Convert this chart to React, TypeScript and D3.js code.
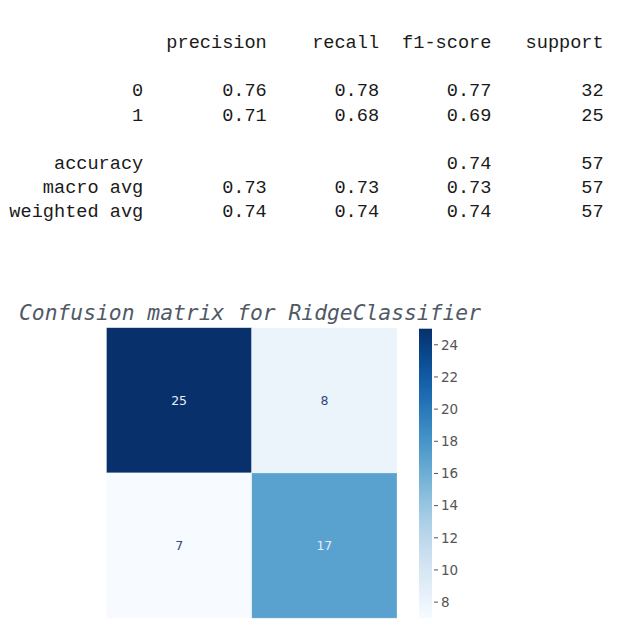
import React from "react";
import * as d3 from "d3";

// ---- classification report data ----
const reportHeaders = ["precision", "recall", "f1-score", "support"];
const classLabels = ["0", "1"];
const precision = [0.76, 0.71];
const recall = [0.78, 0.68];
const f1 = [0.77, 0.69];
const support = [32, 25];
const accuracy = 0.74;
const accuracySupport = 57;
const avgLabels = ["macro avg", "weighted avg"];
const avgPrecision = [0.73, 0.74];
const avgRecall = [0.73, 0.74];
const avgF1 = [0.73, 0.74];
const avgSupport = [57, 57];

// ---- confusion matrix data ----
const title = "Confusion matrix for RidgeClassifier";
const matrix = [
  [25, 8],
  [7, 17],
];
const colorbarTicks = [8, 10, 12, 14, 16, 18, 20, 22, 24];

export default function App() {
  const W = 624;
  const H = 630;

  // table layout (monospaced grid), svg coords (body margin 8)
  const charW = 11.23;
  const colEnds = [12, 23, 33, 43, 53].map((c) => c * charW + 0.5);
  const lineY = (i: number) => 48 + i * 24.2;
  const tableFont = "'Courier New', 'Liberation Mono', monospace";

  type Row = { label: string; cells: (string | null)[]; line: number };
  const rows: Row[] = [];
  classLabels.forEach((l, i) =>
    rows.push({
      label: l,
      cells: [precision[i].toFixed(2), recall[i].toFixed(2), f1[i].toFixed(2), String(support[i])],
      line: 2 + i,
    })
  );
  rows.push({ label: "accuracy", cells: [null, null, accuracy.toFixed(2), String(accuracySupport)], line: 5 });
  avgLabels.forEach((l, i) =>
    rows.push({
      label: l,
      cells: [avgPrecision[i].toFixed(2), avgRecall[i].toFixed(2), avgF1[i].toFixed(2), String(avgSupport[i])],
      line: 6 + i,
    })
  );

  // heatmap
  const hmLeft = 106.5 - 8;
  const hmTop = 327.7 - 8;
  const hmSize = 290.5;
  const band = d3.scaleBand<number>().domain([0, 1]).range([0, hmSize]);
  const flat = matrix.flat();
  const vmin = d3.min(flat)!;
  const vmax = d3.max(flat)!;
  const color = d3.scaleSequential(d3.interpolateBlues).domain([vmin, vmax]);

  // colorbar
  const cbLeft = 419 - 8;
  const cbW = 13;
  const cbTop = hmTop + 1;
  const cbH = hmSize - 1;
  const cbScale = d3.scaleLinear().domain([vmin, vmax]).range([cbTop + cbH, cbTop]);
  const stops = d3.range(0, 1.0001, 0.05);

  return (
    <svg width={W - 16} height={H - 16} style={{ display: "block" }}>
      <defs>
        <linearGradient id="cbgrad" x1="0" y1="1" x2="0" y2="0">
          {stops.map((t) => (
            <stop key={t} offset={`${t * 100}%`} stopColor={d3.interpolateBlues(t)} />
          ))}
        </linearGradient>
      </defs>
      <rect width={W} height={H} fill="#fff" />
      {/* table */}
      <g fontFamily={tableFont} fontSize={18.6} fill="#1a1a1a" transform="translate(0,-8)">
        {reportHeaders.map((h, j) => (
          <text key={h} x={colEnds[j + 1]} y={lineY(0)} textAnchor="end">
            {h}
          </text>
        ))}
        {rows.map((r) => (
          <g key={r.label}>
            <text x={colEnds[0]} y={lineY(r.line)} textAnchor="end">
              {r.label}
            </text>
            {r.cells.map((c, j) =>
              c === null ? null : (
                <text key={j} x={colEnds[j + 1]} y={lineY(r.line)} textAnchor="end">
                  {c}
                </text>
              )
            )}
          </g>
        ))}
      </g>
      {/* title */}
      <text
        x={19 - 8}
        y={320 - 8}
        fontFamily="'DejaVu Sans Mono', monospace"
        fontStyle="italic"
        fontSize={20.5}
        fill="#4f5a66"
        textLength={462}
        lengthAdjust="spacingAndGlyphs"
      >
        {title}
      </text>
      {/* heatmap */}
      <g transform={`translate(${hmLeft},${hmTop})`}>
        {matrix.map((row, i) =>
          row.map((v, j) => (
            <g key={`${i}-${j}`}>
              <rect
                x={band(j)}
                y={band(i)}
                width={band.bandwidth()}
                height={band.bandwidth()}
                fill={color(v)}
                stroke="#ffffff"
                strokeOpacity={0.5}
                strokeWidth={0.6}
              />
              <text
                x={band(j)! + band.bandwidth() / 2}
                y={band(i)! + band.bandwidth() / 2}
                dy="0.35em"
                textAnchor="middle"
                fontFamily="'DejaVu Sans', sans-serif"
                fontSize={12.5}
                fill={(v - vmin) / (vmax - vmin) > 0.5 ? "#e6eef7" : "#2c4a80"}
              >
                {v}
              </text>
            </g>
          ))
        )}
      </g>
      {/* colorbar */}
      <rect x={cbLeft} y={cbTop} width={cbW} height={cbH} fill="url(#cbgrad)" />
      <g fontFamily="'DejaVu Sans', sans-serif" fontSize={13.5} fill="#555">
        {colorbarTicks.map((t) => (
          <g key={t} transform={`translate(${cbLeft + cbW},${cbScale(t)})`}>
            <line x1={2} x2={6} stroke="#555" strokeWidth={1} />
            <text x={9} dy="0.35em">
              {t}
            </text>
          </g>
        ))}
      </g>
    </svg>
  );
}
